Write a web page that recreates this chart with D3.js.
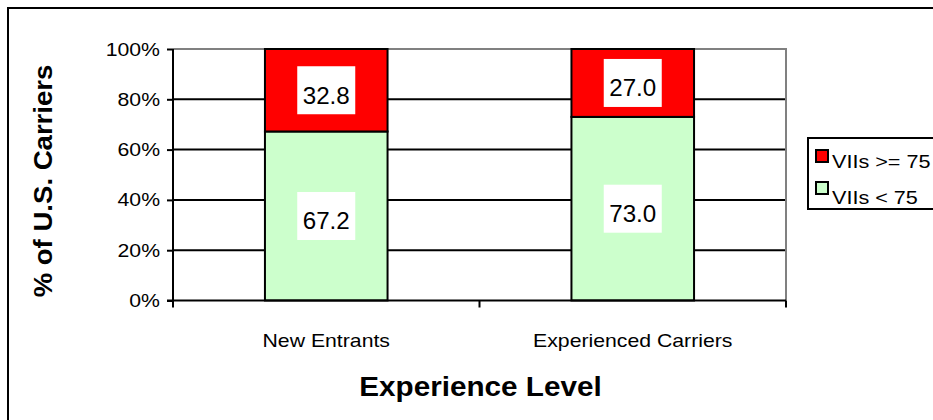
<!DOCTYPE html>
<html><head><meta charset="utf-8">
<script src="https://cdn.jsdelivr.net/npm/d3@7"></script>
<style>body{margin:0;background:#fff}svg{display:block}text{font-family:"Liberation Sans",Arial,sans-serif}</style>
</head><body><svg id="c" width="933" height="420"></svg>
<script>
const categories = ["New Entrants", "Experienced Carriers"];
const seriesNames = ["VIIs < 75", "VIIs >= 75"];
const below75 = [67.2, 73.0];
const above75 = [32.8, 27.0];
const yTicks = [0, 20, 40, 60, 80, 100];
const colors = ["#CCFFCC", "#FF0000"];

const svg = d3.select("#c");
svg.append("rect").attr("x",0).attr("y",0).attr("width",933).attr("height",420).attr("fill","#fff");
svg.append("rect").attr("x",8).attr("y",8).attr("width",1000).attr("height",1000)
  .attr("fill","none").attr("stroke","#000").attr("stroke-width",2);

// text with horizontal stretch, anchored at (x,y)
function stext(parent, x, y, str, size, sx, anchor, weight, rot){
  const t = parent.append("text")
    .attr("transform", `translate(${x},${y})` + (rot?` rotate(${rot})`:"") + ` scale(${sx},1)`)
    .attr("text-anchor", anchor).attr("font-size", size).attr("fill","#000").text(str);
  if (weight) t.attr("font-weight", weight);
  return t;
}

const L=173, R=786, T=49, B=300.5;
const x = d3.scaleBand().domain(categories).range([L,R]).paddingInner(0.6).paddingOuter(0.3);
const y = d3.scaleLinear().domain([0,100]).range([B,T]);

// gridlines
svg.append("g").selectAll("line").data(yTicks.filter(t=>t>0&&t<100)).join("line")
  .attr("x1",L).attr("x2",R).attr("y1",d=>y(d)).attr("y2",d=>y(d))
  .attr("stroke","#000").attr("stroke-width",2);
// plot border top/right gray
svg.append("path").attr("d",`M${L},${y(100)}H${R}V${B}`).attr("fill","none").attr("stroke","#808080").attr("stroke-width",2);

const data = categories.map((c,i)=>({c, vals:[below75[i], above75[i]]}));
const stack = d3.stack().keys([0,1]).value((d,k)=>d.vals[k])(data);

stack.forEach((layer,k)=>{
  svg.append("g").selectAll("rect").data(layer).join("rect")
    .attr("x",d=>x(d.data.c)).attr("width",x.bandwidth())
    .attr("y",d=>y(d[1])).attr("height",d=>y(d[0])-y(d[1]))
    .attr("fill",colors[k]).attr("stroke","#000").attr("stroke-width",2);
});
// labels
stack.forEach((layer,k)=>{
  const g = svg.append("g");
  layer.forEach(d=>{
    const cx = x(d.data.c)+x.bandwidth()/2, cy = (y(d[0])+y(d[1]))/2;
    g.append("rect").attr("x",cx-29).attr("y",cy-24).attr("width",58).attr("height",48).attr("fill","#fff");
    stext(g, cx, cy+13.5, d3.format(".1f")(d[1]-d[0]), 23, 1.05, "middle");
  });
});

// y axis
const ya = svg.append("g").attr("transform",`translate(${L},0)`)
  .call(d3.axisLeft(y).tickValues(yTicks).tickFormat("").tickSize(6));
ya.select(".domain").attr("stroke","#000").attr("stroke-width",2).attr("d",`M-6,${B}H0V${T}`);
ya.selectAll(".tick line").attr("stroke","#000").attr("stroke-width",2);
const yl = svg.append("g");
yTicks.forEach(t=> stext(yl, 160, y(t)+6.5, t+"%", 18, 1.18, "end"));

// x axis
const xa = svg.append("g").attr("transform",`translate(0,${B})`);
xa.append("line").attr("x1",L).attr("x2",R).attr("stroke","#000").attr("stroke-width",2);
const step = (R-L)/categories.length;
xa.selectAll(".tk").data(d3.range(categories.length+1)).join("line")
  .attr("x1",i=>L+i*step).attr("x2",i=>L+i*step).attr("y1",0).attr("y2",7).attr("stroke","#000").attr("stroke-width",2);
categories.forEach(c=> stext(xa, x(c)+x.bandwidth()/2, 46, c, 18, 1.18, "middle"));

// axis titles
stext(svg, (L+R)/2 + 1, 396, "Experience Level", 28, 1.06, "middle", "bold");
stext(svg, 52, 181, "% of U.S. Carriers", 26, 1.06, "middle", "bold", -90);

// legend
const lg = svg.append("g");
lg.append("rect").attr("x",808).attr("y",138).attr("width",200).attr("height",71).attr("fill","#fff").attr("stroke","#000").attr("stroke-width",2);
const legItems = [{n:seriesNames[1],c:colors[1]},{n:seriesNames[0],c:colors[0]}];
legItems.forEach((d,i)=>{
  lg.append("rect").attr("x",816).attr("y",150+i*32).attr("width",12).attr("height",12).attr("fill",d.c).attr("stroke","#000").attr("stroke-width",2);
  stext(lg, 832, 168+i*36, d.n, 18, 1.2, "start");
});
</script></body></html>
